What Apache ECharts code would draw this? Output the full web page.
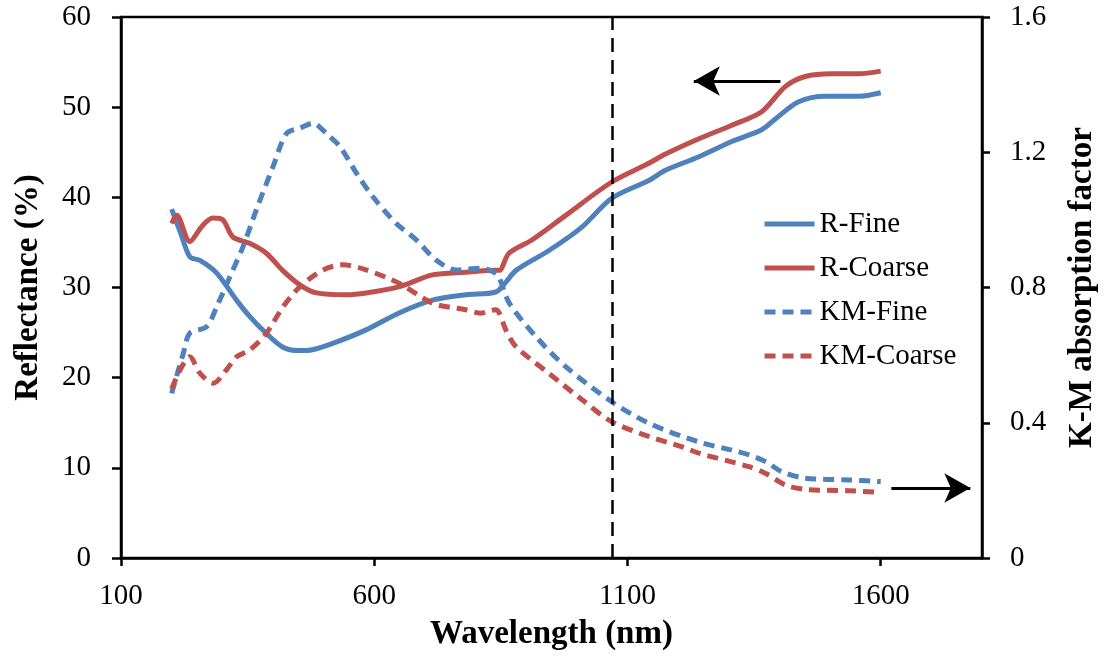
<!DOCTYPE html>
<html>
<head>
<meta charset="utf-8">
<script src="https://cdn.jsdelivr.net/npm/echarts@6/dist/echarts.min.js"></script>
<style>
  html, body { margin: 0; padding: 0; background: #fff; }
  #chart { width: 1107px; height: 659px; }
</style>
</head>
<body>
<div id="chart"></div>
<script>
// Reflectance (%) of fine and coarse powders, left axis
const rFineWl   = [200, 218, 236, 256, 289, 328, 354, 387, 419, 450, 478, 518, 584, 650, 715, 781, 840, 860, 880, 945, 1010, 1069, 1143, 1175, 1241, 1306, 1365, 1392, 1438, 1491, 1556, 1600];
const rFine     = [38.7, 36.0, 33.4, 33.0, 31.6, 28.6, 26.8, 24.9, 23.4, 23.0, 23.1, 23.8, 25.3, 27.2, 28.6, 29.2, 29.5, 30.6, 31.9, 34.1, 36.7, 39.9, 41.9, 43.0, 44.5, 46.2, 47.5, 48.7, 50.6, 51.2, 51.2, 51.6];
const rCoarseWl = [200, 210, 236, 260, 281, 301, 321, 354, 387, 419, 453, 486, 545, 584, 650, 715, 781, 840, 847, 866, 912, 978, 1069, 1143, 1175, 1241, 1306, 1365, 1412, 1451, 1503, 1556, 1600];
const rCoarse   = [37.1, 38.0, 35.1, 36.8, 37.7, 37.5, 35.6, 34.9, 33.8, 31.9, 30.3, 29.4, 29.2, 29.4, 30.1, 31.4, 31.7, 31.9, 31.9, 33.8, 35.3, 38.0, 41.7, 43.8, 44.8, 46.5, 48.0, 49.5, 52.3, 53.4, 53.7, 53.7, 54.0];

// Kubelka-Munk absorption factor, right axis
const kmFineWl   = [200, 223, 236, 269, 289, 315, 341, 367, 400, 427, 453, 479, 505, 532, 565, 597, 643, 683, 722, 762, 814, 840, 847, 867, 919, 978, 1069, 1143, 1241, 1306, 1340, 1373, 1405, 1451, 1537, 1600];
const kmFine     = [0.487, 0.605, 0.665, 0.684, 0.743, 0.832, 0.921, 1.029, 1.157, 1.256, 1.271, 1.286, 1.256, 1.217, 1.138, 1.069, 0.990, 0.941, 0.881, 0.852, 0.857, 0.842, 0.828, 0.753, 0.655, 0.566, 0.462, 0.398, 0.343, 0.319, 0.305, 0.285, 0.255, 0.236, 0.231, 0.226];
const kmCoarseWl = [200, 236, 256, 282, 308, 328, 354, 387, 420, 453, 499, 538, 584, 650, 716, 781, 810, 840, 847, 860, 880, 945, 1011, 1069, 1143, 1208, 1241, 1340, 1373, 1412, 1451, 1537, 1600];
const kmCoarse   = [0.50, 0.595, 0.546, 0.517, 0.556, 0.595, 0.615, 0.665, 0.743, 0.802, 0.852, 0.867, 0.852, 0.812, 0.753, 0.734, 0.724, 0.734, 0.724, 0.674, 0.625, 0.546, 0.467, 0.403, 0.359, 0.329, 0.310, 0.270, 0.250, 0.216, 0.203, 0.199, 0.194];

// Axis ticks
const xTicks  = [100, 600, 1100, 1600];
const cutoffWl = 1070;

const BLUE = '#4F81BD';
const RED = '#C0504D';
const FONT = 'Liberation Serif';

const zip = (xs, ys) => xs.map((x, i) => [x, ys[i]]);

const chart = echarts.init(document.getElementById('chart'));

const LW = 5;
const dashed = [11, 7];

chart.setOption({
  animation: false,
  backgroundColor: '#fff',
  textStyle: { fontFamily: FONT, color: '#000' },
  grid: {
    left: 121, right: 123, top: 17, bottom: 101,
    show: true, borderColor: '#000', borderWidth: 2.5, backgroundColor: 'transparent'
  },
  legend: {
    orient: 'vertical',
    left: 757, top: 204,
    itemWidth: 50, itemHeight: 14, itemGap: 14,
    itemStyle: { opacity: 0 },
    lineStyle: { width: LW },
    textStyle: { fontFamily: FONT, fontSize: 29, color: '#000', lineHeight: 30 },
    data: ['R-Fine', 'R-Coarse', 'KM-Fine', 'KM-Coarse']
  },
  xAxis: {
    type: 'value', min: 100, max: 1800, interval: 500,
    name: 'Wavelength (nm)', nameLocation: 'middle', nameGap: 60,
    nameTextStyle: { fontFamily: FONT, fontSize: 33, fontWeight: 'bold', color: '#000' },
    axisLine: { show: true, lineStyle: { color: '#000', width: 2.5 } },
    axisTick: { show: true, inside: false, length: 8, lineStyle: { color: '#000', width: 2.5 }, customValues: xTicks },
    axisLabel: { fontFamily: FONT, fontSize: 29, color: '#000', margin: 24, customValues: xTicks, formatter: v => String(v) },
    splitLine: { show: false }
  },
  yAxis: [
    {
      type: 'value', min: 0, max: 60, interval: 10, position: 'left',
      name: 'Reflectance (%)', nameLocation: 'middle', nameGap: 76, nameRotate: 90,
      nameTextStyle: { fontFamily: FONT, fontSize: 33, fontWeight: 'bold', color: '#000' },
      axisLine: { show: true, lineStyle: { color: '#000', width: 2.5 } },
      axisTick: { show: true, inside: false, length: 9, lineStyle: { color: '#000', width: 2.5 } },
      axisLabel: { fontFamily: FONT, fontSize: 29, color: '#000', margin: 30 },
      splitLine: { show: false }
    },
    {
      type: 'value', min: 0, max: 1.6, interval: 0.4, position: 'right',
      name: 'K-M absorption factor', nameLocation: 'middle', nameGap: 84, nameRotate: 90,
      nameTextStyle: { fontFamily: FONT, fontSize: 33, fontWeight: 'bold', color: '#000' },
      axisLine: { show: true, lineStyle: { color: '#000', width: 2.5 } },
      axisTick: { show: true, inside: false, length: 8, lineStyle: { color: '#000', width: 2.5 } },
      axisLabel: { fontFamily: FONT, fontSize: 29, color: '#000', margin: 28 },
      splitLine: { show: false }
    }
  ],
  series: [
    {
      name: 'R-Fine', type: 'line', yAxisIndex: 0, showSymbol: false, symbol: 'none', smooth: 0.3,
      data: zip(rFineWl, rFine),
      lineStyle: { color: BLUE, width: LW }, itemStyle: { color: BLUE },
      markLine: {
        silent: true, symbol: 'none', label: { show: false },
        lineStyle: { color: '#000', width: 2.5, type: [14, 8] },
        data: [{ xAxis: cutoffWl }]
      }
    },
    {
      name: 'R-Coarse', type: 'line', yAxisIndex: 0, showSymbol: false, symbol: 'none', smooth: 0.3,
      data: zip(rCoarseWl, rCoarse),
      lineStyle: { color: RED, width: LW }, itemStyle: { color: RED },
      // arrow pointing to the reflectance axis
      markLine: {
        silent: true, symbol: ['none', 'arrow'], symbolSize: [22, 26], label: { show: false },
        lineStyle: { color: '#000', width: 3, type: 'solid' },
        data: [[{ coord: [1402, 52.9] }, { coord: [1231, 52.9] }]]
      }
    },
    {
      name: 'KM-Fine', type: 'line', yAxisIndex: 1, showSymbol: false, symbol: 'none', smooth: 0.3,
      data: zip(kmFineWl, kmFine),
      lineStyle: { color: BLUE, width: LW, type: dashed }, itemStyle: { color: BLUE }
    },
    {
      name: 'KM-Coarse', type: 'line', yAxisIndex: 1, showSymbol: false, symbol: 'none', smooth: 0.3,
      data: zip(kmCoarseWl, kmCoarse),
      lineStyle: { color: RED, width: LW, type: dashed }, itemStyle: { color: RED },
      // arrow pointing to the K-M axis
      markLine: {
        silent: true, symbol: ['none', 'arrow'], symbolSize: [22, 26], label: { show: false },
        lineStyle: { color: '#000', width: 3, type: 'solid' },
        data: [[{ coord: [1621, 0.207] }, { coord: [1777, 0.207] }]]
      }
    }
  ]
});
</script>
</body>
</html>
